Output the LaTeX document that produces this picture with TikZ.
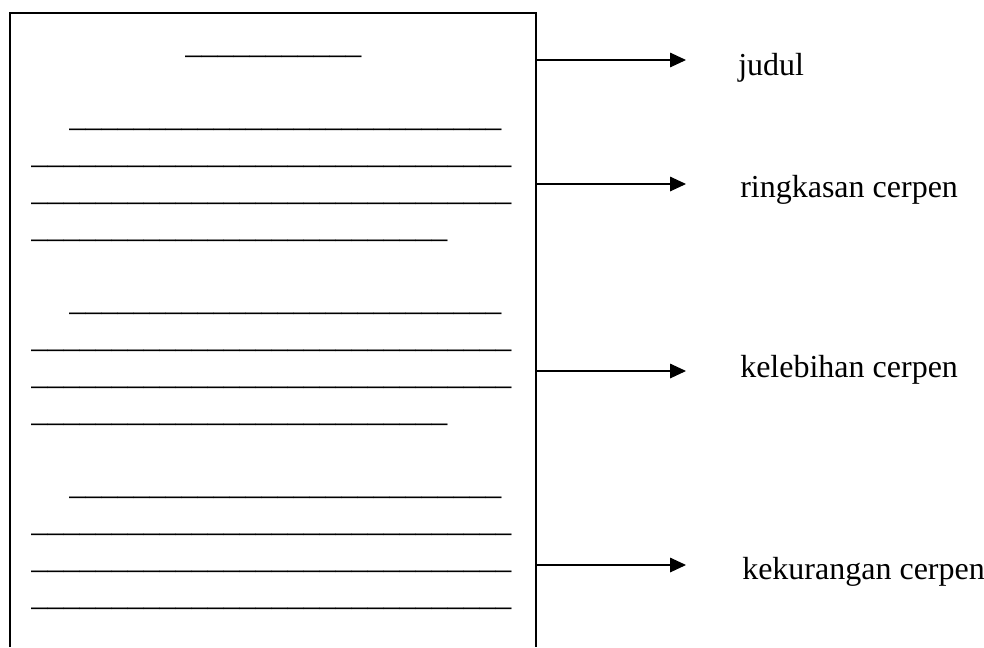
\documentclass[tikz,border=0pt]{standalone}
\usepackage{fontspec}
\setmainfont{Liberation Serif}
\usetikzlibrary{positioning,arrows.meta}

\newcommand\blanks[1]{\foreach \k in {1,...,#1}{\_}}

\begin{document}
\begin{tikzpicture}[x=0.75pt,y=-0.75pt,
  sheet/.style={line width=1.1pt},
  pointer/.style={line width=0.8pt,-{Triangle[length=12pt,width=11pt]}},
  txt/.style={font=\fontsize{24}{28}\selectfont,inner sep=0pt,anchor=base west}]
\useasboundingbox (0,0) rectangle (984,647);

\def\xs{536}
\def\xt{686}

% the sheet
\draw[sheet] (10,647) -- (10,13) -- (536,13) -- (536,647);

% title and paragraphs
\node[txt] (title) at (185,53) {\blanks{11}};
\foreach \p/\y/\n in {1/129/26,2/313/26,3/497/30}{
  \node[txt] (p\p a) at (69,\y-3) {\blanks{27}};
  \node[txt] (p\p b) at (31,\y+34) {\blanks{30}};
  \node[txt] (p\p c) at (31,\y+71) {\blanks{30}};
  \node[txt] (p\p d) at (31,\y+108) {\blanks{\n}};
}

% labels
\coordinate (s1) at (\xs,60);
\coordinate (t1) at (\xt,60);
\coordinate (s2) at (\xs,184);
\coordinate (t2) at (\xt,184);
\coordinate (s3) at (\xs,371);
\coordinate (t3) at (\xt,371);
\coordinate (s4) at (\xs,565);
\coordinate (t4) at (\xt,565);
\node[txt] (judul) at (738,75) {judul};
\node[txt] (ringkasan) at (740,197) {ringkasan cerpen};
\node[txt] (kelebihan) at (740,377) {kelebihan cerpen};
\node[txt] (kekurangan) at (742,579) {kekurangan cerpen};
\draw[pointer] (s1) -- (t1);
\draw[pointer] (s2) -- (t2);
\draw[pointer] (s3) -- (t3);
\draw[pointer] (s4) -- (t4);
\end{tikzpicture}
\end{document}
